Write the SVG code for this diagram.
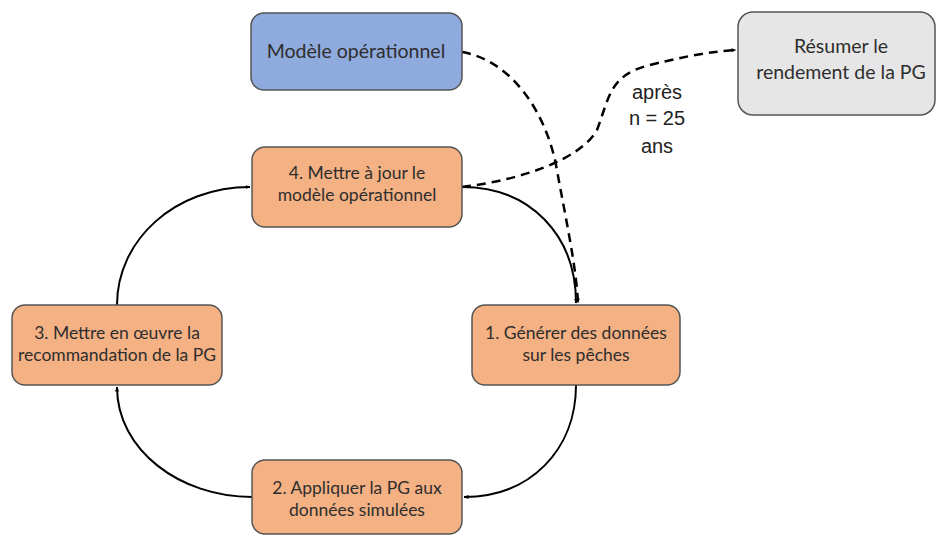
<svg xmlns="http://www.w3.org/2000/svg" width="937" height="536" viewBox="0 0 937 536">
<defs>
<marker id="ah" viewBox="0 0 10 10" refX="9" refY="5" markerWidth="5" markerHeight="5" orient="auto" markerUnits="userSpaceOnUse">
<path d="M0,1 L10,5 L0,9 z" fill="#000"/>
</marker>
<style>
.box{stroke:#555;stroke-width:1.5}
.orange{fill:#f4b183}
.blue{fill:#8faadc}
.grey{fill:#e7e6e6}
.t{font-family:Lato,"Open Sans","Liberation Sans",sans-serif;font-size:17.5px;fill:#2e2e2e;text-anchor:middle}
.big{font-size:19.5px}
.lbl{font-family:"Liberation Sans",Arial,sans-serif;font-size:20px;fill:#222;text-anchor:middle}
.c{fill:none;stroke:#000;stroke-width:2}
.d{fill:none;stroke:#000;stroke-width:2.5;stroke-dasharray:9 6}
</style>
</defs>
<rect width="937" height="536" fill="#fff"/>
<g id="connectors">
<path class="c" d="M462,187 C530,187 576,235 576,303" marker-end="url(#ah)"/>
<path class="c" d="M576,385 C576,450 530,497 464,497" marker-end="url(#ah)"/>
<path class="c" d="M252,497 C180,497 117,450 117,387" marker-end="url(#ah)"/>
<path class="c" d="M117,305 C117,240 175,187 250,187" marker-end="url(#ah)"/>
<path class="d" d="M462,52 C510,60 545,110 556,165 C566,220 576,265 578,303" marker-end="url(#ah)"/>
<path class="d" d="M462,187 C520,180 580,160 597,130 C610,95 610,75 650,65 C690,55 710,52 736,50" marker-end="url(#ah)"/>
</g>
<g id="label-apres">
<text class="lbl" x="657" y="99">après</text>
<text class="lbl" x="657" y="125">n = 25</text>
<text class="lbl" x="657" y="153">ans</text>
</g>
<g id="node-modele">
<rect class="box blue" x="251" y="13" width="211" height="77" rx="13"/>
<text class="t big" x="356" y="58">Modèle opérationnel</text>
</g>
<g id="node-resumer">
<rect class="box grey" x="738" y="12" width="197" height="103" rx="15"/>
<text class="t big" x="841" y="53">Résumer le</text>
<text class="t big" x="841" y="79">rendement de la PG</text>
</g>
<g id="node-4">
<rect class="box orange" x="252" y="147" width="210" height="80" rx="13"/>
<text class="t" x="357" y="179">4. Mettre à jour le</text>
<text class="t" x="357" y="201">modèle opérationnel</text>
</g>
<g id="node-3">
<rect class="box orange" x="12" y="305" width="210" height="80" rx="13"/>
<text class="t" x="117" y="339">3. Mettre en œuvre la</text>
<text class="t" x="117" y="361">recommandation de la PG</text>
</g>
<g id="node-1">
<rect class="box orange" x="472" y="305" width="208" height="80" rx="13"/>
<text class="t" x="576" y="339">1. Générer des données</text>
<text class="t" x="576" y="361">sur les pêches</text>
</g>
<g id="node-2">
<rect class="box orange" x="252" y="460" width="210" height="74" rx="13"/>
<text class="t" x="357" y="494">2. Appliquer la PG aux</text>
<text class="t" x="357" y="516">données simulées</text>
</g>
</svg>
